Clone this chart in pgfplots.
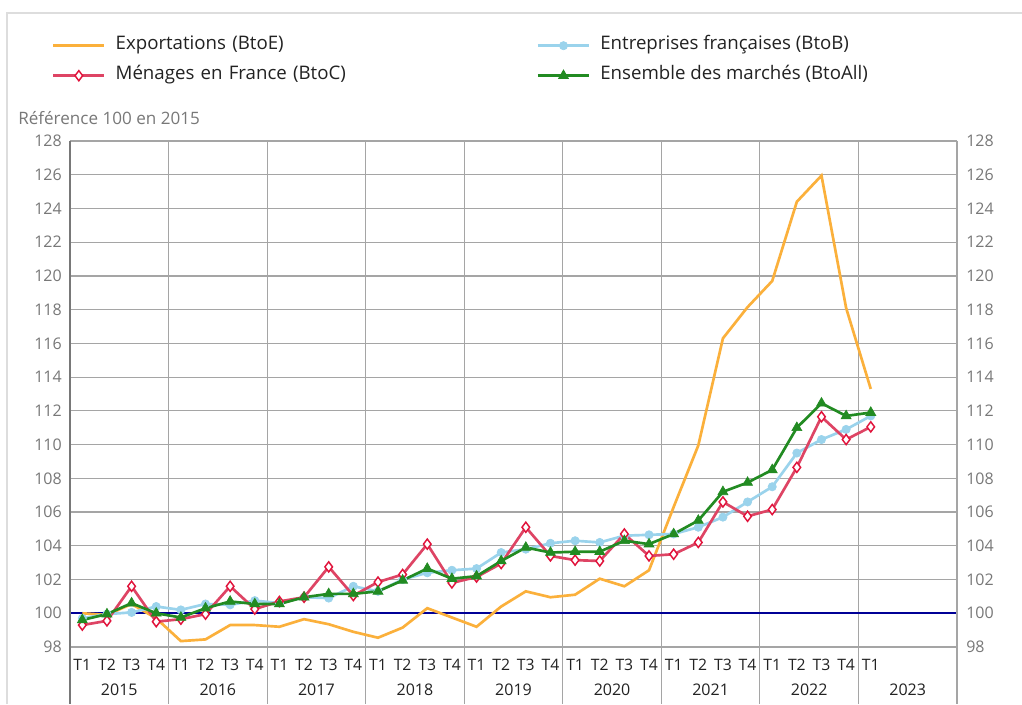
\documentclass[border=0pt]{standalone}
\usepackage{fontspec}
\setmainfont{Open Sans}
\usepackage{pgfplots}
\pgfplotsset{compat=1.18}
\definecolor{cOrange}{RGB}{251,176,59}
\definecolor{cBlue}{RGB}{154,211,236}
\definecolor{cRedLine}{RGB}{222,68,100}
\definecolor{cRedMark}{RGB}{225,20,60}
\definecolor{cGreen}{RGB}{34,139,34}
\definecolor{cNavy}{RGB}{0,0,150}
\definecolor{cGrid}{RGB}{165,165,165}
\definecolor{cFrame}{RGB}{221,221,221}
\definecolor{cTick}{RGB}{120,120,120}
\definecolor{cText}{RGB}{34,34,34}
\definecolor{cAxis}{RGB}{120,120,120}

\begin{document}
\begin{tikzpicture}[x=1pt,y=1pt]
\useasboundingbox (0,0) rectangle (766.5,528);
\fill[white] (0,0) rectangle (766.5,528);
\draw[cFrame, line width=1.5pt] (5.25,0) -- (5.25,518.25) -- (766.5,518.25);
\node[anchor=west, inner sep=0pt, font=\fontsize{12.8}{15}\selectfont, text=cTick] at (13.5,439.5) {Référence 100 en 2015};

\begin{axis}[
  name=main,
  at={(52.5pt,42.75pt)}, anchor=south west,
  scale only axis, width=665.25pt, height=379.5pt,
  xmin=-0.5, xmax=35.5, ymin=98, ymax=128,
  clip=false,
  xtick={0,...,32},
  xticklabels={T1,T2,T3,T4,T1,T2,T3,T4,T1,T2,T3,T4,T1,T2,T3,T4,T1,T2,T3,T4,T1,T2,T3,T4,T1,T2,T3,T4,T1,T2,T3,T4,T1},
  minor xtick={3.5,7.5,...,31.5},
  xminorgrids,
  ytick={98,100,...,128},
  ymajorgrids,
  extra y ticks={100}, extra y tick labels={},
  extra y tick style={major grid style={cNavy, line width=1.2pt}},
  major tick length=0pt, minor tick length=0pt,
  axis line style={draw=none},
  major grid style={cGrid, line width=0.9pt},
  minor grid style={cGrid, line width=0.9pt},
  /pgf/number format/assume math mode=true,
  yticklabel style={anchor=east, inner sep=0pt, xshift=-6pt, font=\fontsize{12}{14}\selectfont, text=cTick},
  xticklabel style={anchor=center, inner sep=0pt, yshift=-13.5pt, font=\fontsize{11.8}{14}\selectfont, text=cText},
  legend columns=2,
  legend cell align=left,
  legend style={
    at={(axis description cs:-0.0203,1.1587)}, anchor=west,
    draw=none, fill=none, inner sep=0pt, outer sep=0pt,
    row sep=10.5pt, column sep=0pt,
    font=\fontsize{14}{16}\selectfont, text=cText,
    nodes={inner sep=0pt, text height=9pt, text depth=3pt},
    /tikz/every odd column/.append style={column sep=7.5pt},
    /tikz/column 2/.append style={text width=315.75pt},
  },
  legend image code/.code={\draw[mark repeat=2,mark phase=2,#1] plot coordinates {(0pt,0pt) (19.125pt,0pt) (38.25pt,0pt)};},
]
\addplot[cOrange, line width=2pt, no markers] coordinates {
(0,100.0)(1,99.9)(2,100.55)(3,99.7)(4,98.35)(5,98.45)(6,99.3)(7,99.3)
(8,99.2)(9,99.65)(10,99.35)(11,98.9)(12,98.55)(13,99.15)(14,100.3)(15,99.75)
(16,99.2)(17,100.4)(18,101.3)(19,100.95)(20,101.1)(21,102.05)(22,101.6)(23,102.55)
(24,106.3)(25,109.95)(26,116.3)(27,118.15)(28,119.7)(29,124.4)(30,125.95)(31,118.1)(32,113.3)};
\addlegendentry{Exportations (BtoE)}
\addplot[cBlue, line width=2pt, mark=*, mark size=3.1pt, mark options={fill=cBlue, draw=cBlue, line width=0.5pt}] coordinates {
(0,99.7)(1,99.95)(2,100.05)(3,100.4)(4,100.2)(5,100.55)(6,100.5)(7,100.75)
(8,100.6)(9,100.95)(10,100.9)(11,101.6)(12,101.3)(13,102.0)(14,102.4)(15,102.55)
(16,102.65)(17,103.6)(18,103.8)(19,104.15)(20,104.3)(21,104.2)(22,104.6)(23,104.65)
(24,104.7)(25,105.1)(26,105.7)(27,106.6)(28,107.5)(29,109.5)(30,110.3)(31,110.9)(32,111.7)};
\addlegendentry{Entreprises françaises (BtoB)}
\addplot[cRedLine, line width=2pt, mark=diamond*, mark size=3.8pt, mark options={fill=white, draw=cRedMark, line width=1.1pt}] coordinates {
(0,99.3)(1,99.55)(2,101.6)(3,99.5)(4,99.65)(5,99.95)(6,101.6)(7,100.25)
(8,100.7)(9,100.95)(10,102.75)(11,101.05)(12,101.85)(13,102.3)(14,104.1)(15,101.8)
(16,102.15)(17,102.95)(18,105.1)(19,103.4)(20,103.15)(21,103.1)(22,104.7)(23,103.4)
(24,103.5)(25,104.2)(26,106.6)(27,105.75)(28,106.15)(29,108.65)(30,111.65)(31,110.3)(32,111.05)};
\addlegendentry{Ménages en France (BtoC)}
\addplot[cGreen, line width=2pt, mark=triangle*, mark size=4.3pt, mark options={fill=cGreen, draw=cGreen, line width=0.5pt}] coordinates {
(0,99.6)(1,99.95)(2,100.6)(3,100.0)(4,99.75)(5,100.3)(6,100.7)(7,100.55)
(8,100.55)(9,100.95)(10,101.15)(11,101.15)(12,101.3)(13,101.95)(14,102.65)(15,102.05)
(16,102.2)(17,103.1)(18,103.9)(19,103.6)(20,103.65)(21,103.65)(22,104.3)(23,104.1)
(24,104.7)(25,105.5)(26,107.2)(27,107.75)(28,108.5)(29,111.0)(30,112.45)(31,111.7)(32,111.9)};
\addlegendentry{Ensemble des marchés (BtoAll)}
\node[font=\fontsize{12}{14}\selectfont, text=cText, inner sep=0pt] at ([yshift=-32.25pt]axis cs:1.5,98) {2015};
\node[font=\fontsize{12}{14}\selectfont, text=cText, inner sep=0pt] at ([yshift=-32.25pt]axis cs:5.5,98) {2016};
\node[font=\fontsize{12}{14}\selectfont, text=cText, inner sep=0pt] at ([yshift=-32.25pt]axis cs:9.5,98) {2017};
\node[font=\fontsize{12}{14}\selectfont, text=cText, inner sep=0pt] at ([yshift=-32.25pt]axis cs:13.5,98) {2018};
\node[font=\fontsize{12}{14}\selectfont, text=cText, inner sep=0pt] at ([yshift=-32.25pt]axis cs:17.5,98) {2019};
\node[font=\fontsize{12}{14}\selectfont, text=cText, inner sep=0pt] at ([yshift=-32.25pt]axis cs:21.5,98) {2020};
\node[font=\fontsize{12}{14}\selectfont, text=cText, inner sep=0pt] at ([yshift=-32.25pt]axis cs:25.5,98) {2021};
\node[font=\fontsize{12}{14}\selectfont, text=cText, inner sep=0pt] at ([yshift=-32.25pt]axis cs:29.5,98) {2022};
\node[font=\fontsize{12}{14}\selectfont, text=cText, inner sep=0pt] at ([yshift=-32.25pt]axis cs:33.5,98) {2023};
\end{axis}

\begin{axis}[
  at={(52.5pt,42.75pt)}, anchor=south west,
  scale only axis, width=665.25pt, height=379.5pt,
  xmin=-0.5, xmax=35.5, ymin=98, ymax=128,
  axis x line=none, axis y line*=right, axis line style={draw=none},
  ytick={98,100,...,128}, major tick length=0pt,
  /pgf/number format/assume math mode=true,
  yticklabel style={anchor=west, inner sep=0pt, xshift=6.75pt, font=\fontsize{12}{14}\selectfont, text=cTick},
]
\end{axis}

\foreach \i in {1,...,8} {
  \draw[cGrid, line width=0.9pt] (52.5+\i*73.9167, 42.75) -- (52.5+\i*73.9167, 0);
}
\draw[cAxis, line width=1.3pt] (52.5,422.25) -- (52.5,0);
\draw[cGrid, line width=0.9pt] (717.75,422.25) -- (717.75,0);
\end{tikzpicture}
\end{document}
